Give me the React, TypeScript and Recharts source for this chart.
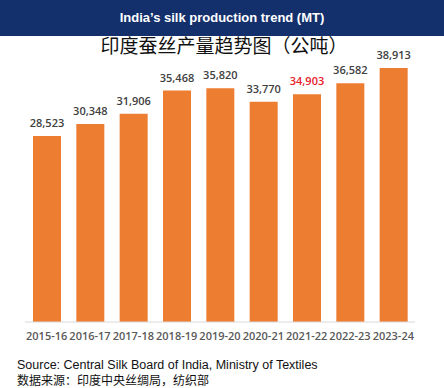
import React from 'react';
import { Bar, BarChart, LabelList, XAxis, YAxis } from 'recharts';

const years = ['2015-16', '2016-17', '2017-18', '2018-19', '2019-20', '2020-21', '2021-22', '2022-23', '2023-24'];
const production = [28523, 30348, 31906, 35468, 35820, 33770, 34903, 36582, 38913];
const highlightYear = '2021-22';

const data = years.map((year, i) => ({ year, value: production[i] }));

const ORANGE = '#ED7D31';
const NAVY = '#14306C';

const renderValue = (props: any) => {
  const { x, y, width, value, index } = props;
  const red = data[index]?.year === highlightYear;
  return (
    <text
      x={Number(x) + Number(width) / 2}
      y={Number(y) - 9}
      textAnchor="middle"
      fontSize={11}
      fontWeight={600}
      fontFamily="'Open Sans', sans-serif"
      fill={red ? '#E8202A' : '#404040'}
    >
      {Number(value).toLocaleString('en-US')}
    </text>
  );
};

export default function App() {
  return (
    <div
      style={{
        position: 'absolute',
        left: 0,
        top: 0,
        width: 444,
        height: 388,
        background: '#fff',
        overflow: 'hidden',
      }}
    >
      <div
        style={{
          position: 'absolute',
          left: 0,
          top: 0,
          width: 444,
          height: 36,
          background: NAVY,
          color: '#fff',
          fontFamily: "'Liberation Sans', Arial, sans-serif",
          fontWeight: 700,
          fontSize: 13,
          lineHeight: '36px',
          textAlign: 'center',
        }}
      >
        India’s silk production trend (MT)
      </div>
      <div
        style={{
          position: 'absolute',
          left: 0,
          top: 33,
          width: 448,
          textAlign: 'center',
          fontFamily: "'Noto Sans CJK SC', sans-serif",
          fontWeight: 400,
          fontSize: 19,
          lineHeight: '24px',
          color: '#111',
        }}
      >
        印度蚕丝产量趋势图（公吨）
      </div>
      <div style={{ position: 'absolute', left: 0, top: 0 }}>
        <BarChart
          width={444}
          height={388}
          data={data}
          margin={{ top: 61, right: 29, bottom: 36, left: 25 }}
        >
          <XAxis
            dataKey="year"
            height={30}
            tickLine={false}
            axisLine={{ stroke: '#D9D9D9' }}
            interval={0}
            tick={{ fontSize: 11, fontWeight: 600, fill: '#595959', fontFamily: "'Open Sans', sans-serif" }}
            tickMargin={4}
          />
          <YAxis hide domain={[0, 40000]} />
          <Bar dataKey="value" fill={ORANGE} barSize={28} isAnimationActive={false}>
            <LabelList dataKey="value" content={renderValue} />
          </Bar>
        </BarChart>
      </div>
      <div
        style={{
          position: 'absolute',
          left: 17,
          top: 359,
          fontFamily: "'Liberation Sans', Arial, sans-serif",
          fontSize: 12.5,
          lineHeight: '13px',
          color: '#111',
          whiteSpace: 'nowrap',
        }}
      >
        Source: Central Silk Board of India, Ministry of Textiles
      </div>
      <div
        style={{
          position: 'absolute',
          left: 17,
          top: 373,
          fontFamily: "'Noto Sans CJK SC', sans-serif",
          fontSize: 12,
          lineHeight: '13px',
          color: '#111',
          whiteSpace: 'nowrap',
        }}
      >
        数据来源：印度中央丝绸局，纺织部
      </div>
    </div>
  );
}
